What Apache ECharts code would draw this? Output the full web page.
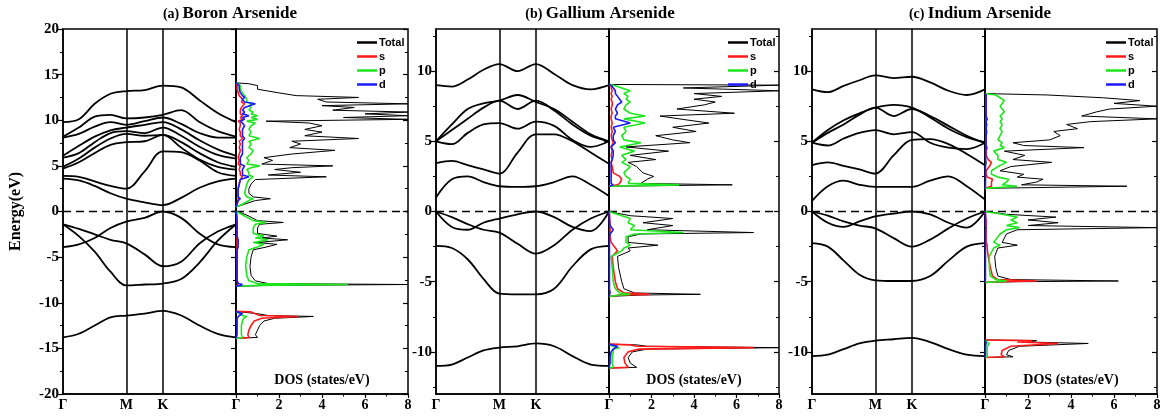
<!DOCTYPE html>
<html>
<head>
<meta charset="utf-8">
<script src="https://cdn.jsdelivr.net/npm/echarts@6/dist/echarts.min.js"></script>
<style>
  html, body { margin: 0; padding: 0; background: #fff; }
  #main { width: 1165px; height: 416px; }
</style>
</head>
<body>
<div id="main"></div>
<script>
// k-path Γ - M - K - Γ
var kPath = [0, 0.25, 0.5, 0.75, 1, 1.289, 1.577, 1.866, 2.155, 2.444, 2.732];
var kTicks = [0, 1, 1.577, 2.732];
var kNames = ['Γ', 'M', 'K', 'Γ'];

var yMajorA = [-20, -15, -10, -5, 0, 5, 10, 15, 20];
var yMinorA = [-17.5, -12.5, -7.5, -2.5, 2.5, 7.5, 12.5, 17.5];
var yMajorB = [-10, -5, 0, 5, 10];
var yMinorB = [-12.5, -7.5, -2.5, 2.5, 7.5, 12.5];

// (a) Boron Arsenide bands (eV)
var basBands = [
  [9.8, 10.1, 11.8, 12.9, 13.2, 13.3, 13.8, 13.6, 12.2, 10.8, 9.8],
  [8.2, 9.2, 10.4, 10.6, 10.2, 10.3, 10.6, 11.1, 9.8, 8.8, 8.2],
  [8.1, 8.5, 9.3, 9.8, 9.5, 9.9, 10.3, 9.6, 8.6, 8.1, 8.1],
  [6.1, 7.2, 8.2, 8.9, 9.2, 9.5, 9.8, 9.0, 7.8, 6.8, 6.1],
  [5.9, 6.4, 7.6, 8.6, 8.8, 8.6, 9.2, 8.3, 7.1, 6.2, 5.8],
  [4.9, 5.8, 7.0, 8.0, 8.5, 8.3, 8.4, 7.6, 6.4, 5.4, 4.9],
  [4.7, 5.4, 6.4, 7.3, 7.6, 7.7, 8.4, 7.0, 5.7, 4.9, 4.6],
  [3.9, 3.8, 3.3, 2.8, 2.5, 4.4, 6.6, 6.5, 5.6, 4.3, 3.9],
  [3.6, 3.4, 2.8, 2.0, 1.4, 1.0, 0.7, 1.5, 2.6, 3.3, 3.6],
  [-3.9, -3.6, -2.9, -1.8, -1.1, -0.7, 0, -0.7, -2.4, -3.6, -3.9],
  [-1.4, -1.9, -2.5, -3.1, -3.5, -4.7, -6.0, -5.5, -3.5, -2.2, -1.4],
  [-1.4, -2.7, -4.4, -6.6, -8.1, -8.0, -7.9, -7.4, -5.6, -3.2, -1.4],
  [-13.8, -13.4, -12.5, -11.6, -11.4, -11.2, -10.9, -11.4, -12.5, -13.4, -13.8]
];

// (a) Boron Arsenide DOS (states/eV)
var basE = [-13.9, -13.8, -13.5, -13.0, -12.5, -12.0, -11.7, -11.5, -11.4, -11.2, -11.0, -10.95, null,
  -8.2, -8.1, -8.0, -7.9, -7.6, -7.0, -6.0, -5.0, -4.2, -3.9, -3.6, -3.4, -3.1, -2.9, -2.7, -2.4, -1.8, -1.4, -1.2, -1.0, -0.5, -0.1, 0, null,
  0.5, 0.8, 1.2, 1.4, 1.6, 2.0, 2.5, 3.0, 3.5, 3.8, 4.0, 4.3, 4.6, 4.8, 5.0, 5.2, 5.6, 5.9, 6.3, 6.7, 7.0, 7.4, 7.7, 8.0,
  8.3, 8.7, 9.0, 9.4, 9.7, 9.9, 10.1, 10.3, 10.5, 10.7, 10.9, 11.1, 11.4, 11.6, 11.8, 12.0, 12.3, 12.5, 12.7, 13.0, 13.2, 13.4, 13.8, 14.0, 14.1];
var basTot = [0, 1.0, 0.9, 1.0, 1.1, 1.3, 1.8, 3.6, 1.5, 1.0, 1.0, 0, null,
  0, 1.5, 8, 1.5, 0.9, 0.7, 0.65, 0.7, 0.8, 1.4, 1.9, 1.0, 2.4, 1.2, 1.9, 1.0, 1.0, 1.1, 2.2, 1.0, 0.6, 0.2, 0, null,
  0, 0.4, 0.9, 1.6, 0.8, 0.6, 0.6, 0.7, 0.9, 4.2, 1.5, 3.0, 1.8, 2.6, 4.5, 1.2, 1.7, 1.3, 2.6, 4.6, 2.5, 3.0, 2.6, 5.7,
  3.2, 4.0, 3.2, 4.0, 3.4, 1.4, 8, 5.0, 8, 6.0, 8, 4.5, 5.5, 4.0, 8, 4.2, 3.8, 5.7, 2.8, 2.0, 2.0, 1.0, 1.0, 0.6, 0];
var basS = [0, 0.6, 0.55, 0.6, 0.7, 0.85, 1.2, 2.9, 1.1, 0.9, 0.7, 0, null,
  0, 0.05, 0.1, 0.05, 0.05, 0.05, 0.05, 0.05, 0.05, 0.05, 0.05, 0.05, 0.05, 0.05, 0.05, 0.05, 0.05, 0.05, 0.05, 0.05, 0.05, 0.02, 0, null,
  0, 0.05, 0.1, 0.15, 0.1, 0.1, 0.1, 0.15, 0.2, 0.3, 0.2, 0.2, 0.15, 0.2, 0.2, 0.1, 0.15, 0.1, 0.15, 0.2, 0.15, 0.2, 0.15, 0.3,
  0.2, 0.2, 0.15, 0.2, 0.2, 0.1, 0.3, 0.2, 0.3, 0.2, 0.25, 0.2, 0.25, 0.3, 0.4, 0.25, 0.3, 0.25, 0.15, 0.1, 0.1, 0.05, 0.05, 0.02, 0];
var basP = [0, 0.3, 0.25, 0.25, 0.25, 0.3, 0.35, 0.5, 0.3, 0.2, 0.2, 0, null,
  0, 1.0, 5.2, 1.0, 0.6, 0.5, 0.45, 0.5, 0.6, 1.0, 1.3, 0.8, 1.5, 0.9, 1.3, 0.8, 0.8, 0.9, 1.4, 0.8, 0.4, 0.1, 0, null,
  0, 0.3, 0.6, 0.8, 0.5, 0.4, 0.45, 0.5, 0.6, 0.8, 0.6, 0.6, 0.5, 0.7, 1.1, 0.5, 0.6, 0.5, 0.7, 0.8, 0.6, 0.7, 0.6, 1.1,
  0.6, 0.7, 0.6, 0.7, 0.9, 0.5, 1.0, 0.7, 1.0, 0.7, 0.8, 0.6, 0.7, 0.6, 0.8, 0.5, 0.5, 0.5, 0.4, 0.3, 0.3, 0.2, 0.2, 0.1, 0];
var basD = [0, 0.05, 0.05, 0.05, 0.05, 0.05, 0.05, 0.1, 0.15, 0.3, 0.05, 0, null,
  0, 0.2, 0.3, 0.1, 0.05, 0.05, 0.05, 0.05, 0.05, 0.1, 0.1, 0.05, 0.1, 0.05, 0.05, 0.05, 0.05, 0.05, 0.05, 0.05, 0.02, 0.01, 0, null,
  0, 0.05, 0.1, 0.2, 0.1, 0.1, 0.1, 0.15, 0.2, 0.6, 0.3, 0.3, 0.3, 0.3, 0.4, 0.2, 0.2, 0.2, 0.3, 0.3, 0.3, 0.3, 0.3, 0.4,
  0.3, 0.3, 0.3, 0.4, 0.3, 0.2, 0.4, 0.3, 0.6, 0.3, 0.4, 0.3, 0.4, 0.4, 0.9, 0.4, 0.3, 0.4, 0.3, 0.2, 0.2, 0.15, 0.15, 0.1, 0];

// (b) Gallium Arsenide bands
var gaasBands = [
  [9.0, 8.9, 9.4, 10.1, 10.5, 10.0, 10.5, 9.8, 9.0, 8.7, 9.0],
  [5.0, 6.2, 7.3, 7.7, 7.9, 8.3, 7.8, 7.3, 6.4, 5.5, 5.0],
  [5.0, 5.8, 6.6, 7.4, 7.9, 7.3, 7.9, 7.2, 6.2, 5.4, 5.0],
  [5.0, 4.8, 5.6, 6.2, 6.3, 5.9, 6.4, 6.1, 5.1, 4.6, 5.0],
  [3.45, 3.6, 3.3, 3.0, 2.7, 4.2, 5.5, 5.5, 5.0, 4.2, 3.4],
  [1.0, 2.3, 2.5, 2.1, 1.8, 1.75, 1.8, 2.1, 2.5, 1.9, 1.1],
  [0, -1.1, -1.3, -0.8, -0.5, -0.2, 0, -0.4, -1.1, -1.4, 0],
  [0, -0.4, -0.9, -1.3, -1.5, -2.3, -3.0, -2.4, -1.3, -0.5, 0],
  [-2.45, -2.6, -3.4, -4.8, -5.85, -5.9, -5.9, -5.5, -3.9, -2.7, -2.45],
  [-11.0, -10.9, -10.4, -9.9, -9.7, -9.6, -9.4, -9.6, -10.3, -10.9, -11.0]
];

// (b) Gallium Arsenide DOS
var gaasE = [-11.15, -11.1, -10.8, -10.4, -10.0, -9.8, -9.7, -9.6, -9.5, -9.45, null,
  -6.05, -5.95, -5.9, -5.8, -5.5, -5.0, -4.0, -3.2, -2.8, -2.6, -2.4, -2.2, -1.8, -1.6, -1.5, -1.3, -1.0, -0.8, -0.5, -0.3, -0.1, 0, null,
  1.8, 1.9, 2.0, 2.3, 2.5, 2.75, 3.2, 3.5, 3.7, 4.0, 4.3, 4.6, 4.9, 5.1, 5.4, 5.7, 6.0, 6.3, 6.6, 6.8,
  7.0, 7.3, 7.6, 7.8, 8.0, 8.2, 8.4, 8.6, 8.8, 9.0, 9.05];
var gaasTot = [0, 1.3, 1.0, 0.9, 1.1, 1.8, 8, 1.8, 1.3, 0, null,
  0, 1.5, 4.3, 1.2, 0.7, 0.6, 0.45, 0.4, 1.0, 0.9, 2.3, 0.9, 0.9, 1.5, 6.8, 1.8, 3.0, 1.6, 3.0, 1.0, 0.3, 0, null,
  0, 5.8, 1.5, 1.8, 2.1, 1.6, 1.3, 0.9, 2.2, 1.0, 2.8, 0.8, 3.8, 3.0, 2.2, 4.1, 3.0, 4.7, 3.3, 2.4,
  5.9, 3.2, 4.5, 5.0, 4.0, 5.3, 4.0, 8, 3.5, 8, 0];
var gaasS = [0, 0.9, 0.75, 0.7, 0.9, 1.4, 6.8, 1.3, 1.0, 0, null,
  0, 0.5, 1.9, 0.7, 0.4, 0.3, 0.2, 0.15, 0.4, 0.3, 0.2, 0.1, 0.05, 0.05, 0.05, 0.05, 0.05, 0.05, 0.03, 0.02, 0.01, 0, null,
  0, 0.4, 0.5, 0.6, 0.5, 0.2, 0.15, 0.1, 0.15, 0.1, 0.15, 0.1, 0.2, 0.15, 0.1, 0.15, 0.1, 0.15, 0.1, 0.1,
  0.15, 0.1, 0.15, 0.15, 0.1, 0.15, 0.1, 0.15, 0.1, 0.1, 0];
var gaasP = [0, 0.2, 0.15, 0.15, 0.2, 0.2, 0.5, 0.2, 0.2, 0, null,
  0, 0.5, 1.0, 0.5, 0.3, 0.2, 0.15, 0.1, 0.6, 0.7, 1.0, 0.8, 0.8, 1.2, 3.5, 1.0, 1.2, 0.9, 1.0, 0.6, 0.2, 0, null,
  0, 3.3, 0.9, 1.0, 0.8, 0.7, 1.0, 0.6, 0.8, 0.6, 1.2, 0.5, 1.5, 0.7, 0.6, 0.8, 0.7, 1.7, 0.7, 1.7,
  1.0, 0.7, 0.8, 1.0, 0.8, 0.9, 0.7, 1.0, 0.6, 0.2, 0];
var gaasD = [0, 0.05, 0.05, 0.05, 0.1, 0.2, 0.2, 0.4, 0.1, 0, null,
  0, 0.05, 0.05, 0.05, 0.02, 0.02, 0.02, 0.02, 0.02, 0.02, 0.02, 0.02, 0.02, 0.05, 0.1, 0.2, 0.05, 0.02, 0.02, 0.02, 0.01, 0, null,
  0, 0.2, 0.1, 0.1, 0.1, 0.1, 0.1, 0.1, 0.15, 0.2, 0.2, 0.1, 0.3, 0.2, 0.2, 0.3, 0.2, 1.0, 0.3, 0.3,
  0.4, 0.3, 0.4, 0.6, 0.5, 0.4, 0.3, 0.3, 0.2, 0.1, 0];

// (c) Indium Arsenide bands
var inasBands = [
  [8.7, 8.5, 8.95, 9.35, 9.7, 9.5, 9.6, 9.2, 8.6, 8.3, 8.7],
  [4.9, 5.8, 6.5, 7.0, 7.4, 7.6, 7.4, 6.7, 5.9, 5.3, 4.9],
  [4.9, 5.6, 6.2, 6.9, 7.4, 6.8, 7.3, 6.8, 6.1, 5.4, 4.9],
  [4.9, 4.7, 5.2, 5.6, 5.8, 5.5, 5.65, 4.9, 4.55, 4.45, 4.9],
  [3.3, 3.5, 3.25, 3.0, 2.7, 4.0, 5.1, 5.15, 4.8, 4.1, 3.3],
  [0.75, 1.8, 2.2, 1.9, 1.75, 1.75, 1.75, 2.2, 2.5, 1.8, 0.85],
  [0, -0.8, -1.1, -0.7, -0.35, -0.15, 0, -0.2, -0.8, -1.15, 0],
  [0, -0.3, -0.7, -1.0, -1.2, -1.9, -2.5, -2.0, -1.2, -0.5, 0],
  [-2.25, -2.5, -3.5, -4.5, -4.9, -4.95, -4.95, -4.6, -3.5, -2.5, -2.25],
  [-10.3, -10.2, -9.8, -9.4, -9.2, -9.1, -9.0, -9.3, -9.8, -10.2, -10.3]
];

// (c) Indium Arsenide DOS
var inasE = [-10.4, -10.35, -10.2, -9.9, -9.6, -9.4, -9.3, -9.2, -9.15, null,
  -5.05, -5.0, -4.95, -4.85, -4.6, -4.0, -3.2, -2.6, -2.4, -2.2, -1.6, -1.3, -1.15, -1.0, -0.8, -0.6, -0.4, -0.2, -0.05, 0, null,
  1.65, 1.8, 1.9, 2.1, 2.3, 2.45, 2.65, 2.9, 3.2, 3.5, 3.7, 4.0, 4.3, 4.55, 4.7, 4.9, 5.1, 5.4, 5.7, 5.9,
  6.2, 6.4, 6.6, 6.8, 7.1, 7.3, 7.5, 7.7, 7.9, 8.1, 8.3, 8.4];
var inasTot = [0, 1.3, 1.0, 1.1, 1.6, 4.8, 2.0, 2.4, 0, null,
  0, 1.5, 6.2, 1.2, 0.6, 0.5, 0.45, 0.6, 1.5, 0.8, 1.0, 1.5, 8, 2.0, 3.4, 2.0, 3.3, 1.0, 0.3, 0, null,
  0, 6.6, 1.7, 2.4, 2.7, 1.5, 1.8, 0.7, 1.2, 3.1, 1.3, 1.85, 0.9, 4.6, 1.8, 1.3, 3.0, 3.5, 3.2, 4.3,
  3.8, 4.9, 8, 4.5, 5.2, 5.8, 8, 6.0, 7.2, 5.5, 2.9, 0];
var inasS = [0, 0.9, 0.75, 0.8, 1.2, 3.4, 1.5, 2.2, 0, null,
  0, 0.6, 2.4, 0.6, 0.35, 0.25, 0.15, 0.1, 0.1, 0.05, 0.05, 0.05, 0.05, 0.05, 0.05, 0.05, 0.03, 0.02, 0.01, 0, null,
  0, 0.3, 0.3, 0.3, 0.35, 0.1, 0.05, 0.05, 0.2, 0.3, 0.15, 0.05, 0.05, 0.1, 0.05, 0.05, 0.05, 0.05, 0.05, 0.05,
  0.05, 0.05, 0.05, 0.05, 0.05, 0.05, 0.05, 0.05, 0.05, 0.05, 0.05, 0];
var inasP = [0, 0.1, 0.1, 0.1, 0.1, 0.2, 0.1, 0.1, 0, null,
  0, 0.6, 1.0, 0.5, 0.25, 0.2, 0.2, 0.4, 0.7, 0.4, 0.7, 1.0, 1.6, 1.0, 1.5, 1.2, 1.5, 0.8, 0.2, 0, null,
  0, 1.5, 0.8, 1.0, 1.1, 0.6, 0.3, 0.3, 0.6, 1.0, 0.6, 0.6, 0.4, 0.9, 0.7, 0.8, 0.6, 0.7, 0.8, 0.7,
  0.8, 0.7, 0.8, 0.7, 0.9, 0.8, 0.7, 0.8, 0.9, 0.7, 0.5, 0];
var inasD = [0, 0.02, 0.02, 0.02, 0.02, 0.05, 0.02, 0.02, 0, null,
  0, 0.02, 0.05, 0.02, 0.02, 0.02, 0.02, 0.02, 0.02, 0.02, 0.02, 0.02, 0.05, 0.02, 0.02, 0.02, 0.02, 0.02, 0.01, 0, null,
  0, 0.02, 0.02, 0.02, 0.03, 0.02, 0.02, 0.02, 0.02, 0.05, 0.03, 0.03, 0.03, 0.05, 0.05, 0.05, 0.05, 0.05, 0.08, 0.05,
  0.08, 0.05, 0.1, 0.05, 0.05, 0.05, 0.05, 0.05, 0.05, 0.05, 0.05, 0];

var serif = '"Liberation Serif", "DejaVu Serif", serif';
var sans = '"Liberation Sans", Arial, sans-serif';

var panels = [
  { tag: '(a)', name: 'Boron Arsenide', left: 63, mid: 236, right: 408, titleX: 230, yMin: -20, yMax: 20, major: yMajorA, minor: yMinorA,
    bands: basBands, E: basE, tot: basTot, s: basS, p: basP, d: basD },
  { tag: '(b)', name: 'Gallium Arsenide', left: 436, mid: 609, right: 779, titleX: 600, yMin: -13, yMax: 13, major: yMajorB, minor: yMinorB,
    bands: gaasBands, E: gaasE, tot: gaasTot, s: gaasS, p: gaasP, d: gaasD },
  { tag: '(c)', name: 'Indium Arsenide', left: 812, mid: 985, right: 1157, titleX: 980, yMin: -13, yMax: 13, major: yMajorB, minor: yMinorB,
    bands: inasBands, E: inasE, tot: inasTot, s: inasS, p: inasP, d: inasD }
];

var TOP = 29, HEIGHT = 365;
var grids = [], xAxes = [], yAxes = [], series = [], legends = [], graphics = [];

var labelFont = { fontFamily: serif, fontWeight: 'bold', fontSize: 14, color: '#000' };
var blackLine = { color: '#000', width: 1.5 };

function yAxis(gi, p, extra) {
  var ax = {
    gridIndex: gi, type: 'value', min: p.yMin, max: p.yMax, position: 'left',
    axisLine: { show: false, onZero: false, lineStyle: blackLine },
    splitLine: { show: false },
    axisLabel: { show: false },
    axisTick: { show: false }
  };
  for (var key in extra) ax[key] = extra[key];
  yAxes.push(ax);
  return yAxes.length - 1;
}

function pairs(E, vals) {
  return E.map(function (e, j) {
    return e === null ? ['-', '-'] : [vals[j], e];
  });
}

var dash0 = { yAxis: 0, lineStyle: { type: [8, 5], width: 1.3, color: '#000' } };

panels.forEach(function (p, i) {
  var gb = grids.length;
  grids.push({ left: p.left, top: TOP, width: p.mid - p.left, height: HEIGHT, show: true, borderColor: '#000', borderWidth: 1.5 });
  var gd = grids.length;
  grids.push({ left: p.mid, top: TOP, width: p.right - p.mid, height: HEIGHT, show: true, borderColor: '#000', borderWidth: 1.5 });

  // band grid x axis
  xAxes.push({
    gridIndex: gb, type: 'value', min: 0, max: 2.732,
    axisLine: { show: true, onZero: false, lineStyle: blackLine },
    axisTick: { show: false }, splitLine: { show: false },
    axisLabel: Object.assign({
      customValues: kTicks, margin: 4,
      formatter: function (v) { return kNames[kTicks.indexOf(v)]; }
    }, labelFont)
  });
  var xb = xAxes.length - 1;
  // DOS grid x axis
  xAxes.push({
    gridIndex: gd, type: 'value', min: 0, max: 8, interval: 2,
    axisLine: { show: true, onZero: false, lineStyle: blackLine },
    axisTick: { show: true, length: 4, lineStyle: { color: '#000', width: 1.2 } },
    minorTick: { show: true, splitNumber: 2, length: 2.5, lineStyle: { color: '#000', width: 1 } },
    splitLine: { show: false },
    axisLabel: Object.assign({ margin: 4, formatter: function (v) { return v === 0 ? '' : String(v); } }, labelFont)
  });
  var xd = xAxes.length - 1;

  var yb = yAxis(gb, p, {
    axisLine: { show: true, onZero: false, lineStyle: blackLine },
    axisTick: { show: true, customValues: p.major, length: 5, lineStyle: { color: '#000', width: 1.2 } },
    axisLabel: Object.assign({ show: true, customValues: p.major, margin: 4 }, labelFont, { fontSize: 15 }),
    name: i === 0 ? 'Energy(eV)' : '',
    nameLocation: 'middle', nameGap: 39, nameRotate: 90,
    nameTextStyle: { fontFamily: serif, fontWeight: 'bold', fontSize: 16, color: '#000' }
  });
  yAxis(gb, p, { axisTick: { show: true, customValues: p.minor, length: 3, lineStyle: { color: '#000', width: 1 } } });

  var yd = yAxis(gd, p, {
    axisLine: { show: true, onZero: false, lineStyle: blackLine },
    axisTick: { show: true, customValues: p.major, length: 5, lineStyle: { color: '#000', width: 1.2 } }
  });
  yAxis(gd, p, { axisTick: { show: true, customValues: p.minor, length: 3, lineStyle: { color: '#000', width: 1 } } });
  yAxis(gd, p, { position: 'right',
    axisTick: { show: true, inside: true, customValues: p.major, length: 5, lineStyle: { color: '#000', width: 1.2 } } });
  yAxis(gd, p, { position: 'right',
    axisTick: { show: true, inside: true, customValues: p.minor, length: 3, lineStyle: { color: '#000', width: 1 } } });

  // band lines
  p.bands.forEach(function (band, b) {
    var s = {
      type: 'line', xAxisIndex: xb, yAxisIndex: yb, silent: true,
      data: kPath.map(function (k, j) { return [k, band[j]]; }),
      smooth: 0.35, symbol: 'none', showSymbol: false,
      lineStyle: { color: '#000', width: 1.8 }, z: 3
    };
    if (b === 0) {
      s.markLine = {
        silent: true, symbol: 'none', animation: false, label: { show: false },
        data: [
          { xAxis: 1, lineStyle: { type: 'solid', width: 1.5, color: '#000' } },
          { xAxis: 1.577, lineStyle: { type: 'solid', width: 1.5, color: '#000' } },
          dash0
        ]
      };
    }
    series.push(s);
  });

  // DOS lines
  var comps = [
    { name: 'Total', vals: p.tot, color: '#000000', width: 1 },
    { name: 's', vals: p.s, color: '#ff1a1a', width: 1.6 },
    { name: 'p', vals: p.p, color: '#1ee61e', width: 1.6 },
    { name: 'd', vals: p.d, color: '#1a1aff', width: 1.6 }
  ];
  comps.forEach(function (c, ci) {
    var s = {
      name: c.name, type: 'line', xAxisIndex: xd, yAxisIndex: yd, silent: true,
      data: pairs(p.E, c.vals), connectNulls: false,
      symbol: 'none', showSymbol: false, color: c.color,
      lineStyle: { color: c.color, width: c.width }, z: 3 + ci
    };
    if (ci === 0) {
      s.markLine = { silent: true, symbol: 'none', animation: false, label: { show: false }, data: [dash0] };
    }
    series.push(s);
  });

  legends.push({
    left: p.right - 56, top: 31, orient: 'vertical', itemGap: 1, itemWidth: 20, itemHeight: 2.5,
    icon: 'rect', selectedMode: false,
    data: [{ name: 'Total', itemStyle: { color: '#000' } }, 's', 'p', 'd'],
    textStyle: { fontFamily: sans, fontWeight: 'bold', fontSize: 11, color: '#000', lineHeight: 13, padding: [0, 0, 0, -3] }
  });

  graphics.push({
    type: 'text', x: p.titleX, y: 14,
    style: {
      text: '{t|' + p.tag + '} {n|' + p.name + '}', align: 'center', verticalAlign: 'middle',
      rich: {
        t: { fontFamily: serif, fontWeight: 'bold', fontSize: 14, fill: '#000' },
        n: { fontFamily: serif, fontWeight: 'bold', fontSize: 17, fill: '#000' }
      }
    }
  });
  graphics.push({
    type: 'text', x: p.mid + (p.right - p.mid) * 0.5, y: 380,
    style: { text: 'DOS (states/eV)', align: 'center', verticalAlign: 'middle',
      font: 'bold 14px ' + serif, fill: '#000' }
  });
});

var chart = echarts.init(document.getElementById('main'), null, { renderer: 'canvas' });
chart.setOption({
  animation: false,
  backgroundColor: '#fff',
  grid: grids,
  xAxis: xAxes,
  yAxis: yAxes,
  legend: legends,
  graphic: graphics,
  series: series
});
</script>
</body>
</html>
